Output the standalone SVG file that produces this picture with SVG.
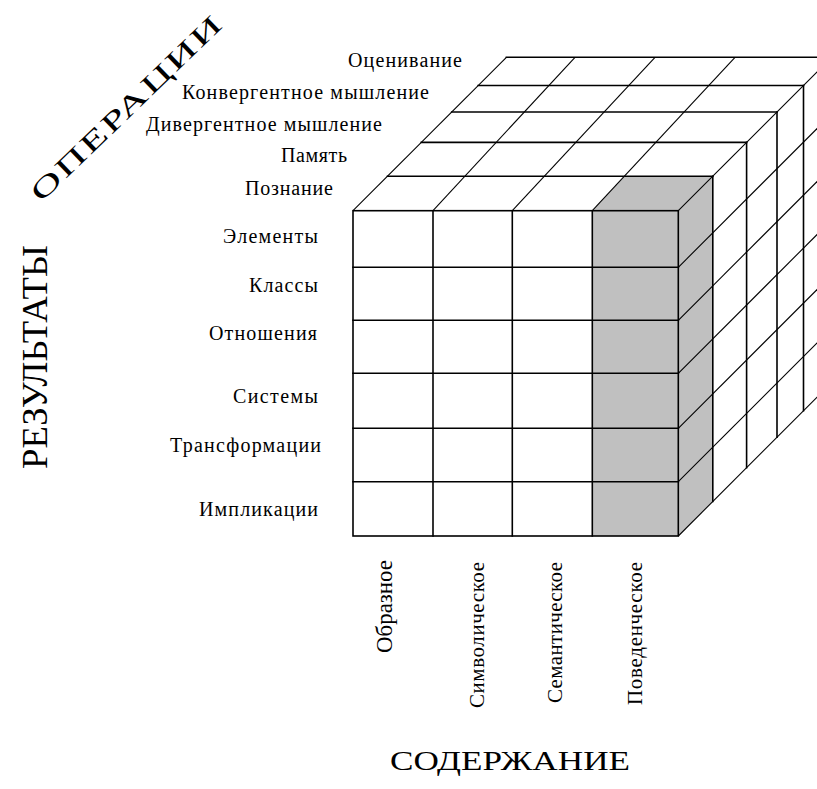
<svg xmlns="http://www.w3.org/2000/svg" width="817" height="789" viewBox="0 0 817 789">
<style>
.bg{fill:#ffffff}
.ln{stroke:#000;stroke-width:1.6;fill:none;stroke-linecap:square}
.dg{stroke:#000;stroke-width:1.1;fill:none}
.shade{fill:#c0c0c0}
.white{fill:#ffffff}
.lbl{font-family:"Liberation Serif","Times New Roman",serif;font-size:20px;fill:#000}
.big{font-family:"Liberation Serif","Times New Roman",serif;fill:#000}
.cnt{font-family:"Liberation Serif","Times New Roman",serif;fill:#000}
</style>
<rect class="bg" x="0" y="0" width="817" height="789"/>

<g id="cube">
  <rect class="white" x="353" y="210.7" width="239.3" height="325.3"/>
  <rect class="shade" x="592.3" y="210.7" width="86" height="325.3"/>
  <polygon class="shade" points="592.3,210.7 678.3,210.7 712.8,176.2 624.2,176.2"/>
  <polygon class="shade" points="678.3,210.7 712.8,176.2 712.8,501.5 678.3,536"/>

  <g id="top-face">
    <line class="ln" x1="387.5" y1="176.2" x2="712.8" y2="176.2"/>
    <line class="ln" x1="421.3" y1="142.4" x2="746.6" y2="142.4"/>
    <line class="ln" x1="451.7" y1="112" x2="777" y2="112"/>
    <line class="ln" x1="478.2" y1="85.5" x2="803.5" y2="85.5"/>
    <line class="ln" x1="506.4" y1="57.3" x2="831.7" y2="57.3"/>
    <line class="dg" x1="353" y1="210.7" x2="506.4" y2="57.3"/>
    <line class="dg" x1="433" y1="210.7" x2="575" y2="57.3"/>
    <line class="dg" x1="512.3" y1="210.7" x2="655" y2="57.3"/>
    <line class="dg" x1="592.3" y1="210.7" x2="735" y2="57.3"/>
    <line class="dg" x1="678.3" y1="210.7" x2="831.7" y2="57.3"/>
  </g>

  <g id="right-face">
    <line class="ln" x1="712.8" y1="176.2" x2="712.8" y2="501.5"/>
    <line class="ln" x1="746.6" y1="142.4" x2="746.6" y2="467.7"/>
    <line class="ln" x1="777" y1="112" x2="777" y2="437.3"/>
    <line class="ln" x1="803.5" y1="85.5" x2="803.5" y2="410.8"/>
    <line class="dg" x1="678.3" y1="267.3" x2="831.7" y2="113.9"/>
    <line class="dg" x1="678.3" y1="320.3" x2="831.7" y2="166.9"/>
    <line class="dg" x1="678.3" y1="373.3" x2="831.7" y2="219.9"/>
    <line class="dg" x1="678.3" y1="428.3" x2="831.7" y2="274.9"/>
    <line class="dg" x1="678.3" y1="481.7" x2="831.7" y2="328.3"/>
    <line class="dg" x1="678.3" y1="536" x2="831.7" y2="382.6"/>
  </g>

  <g id="front-face">
    <rect class="ln" x="353" y="210.7" width="325.3" height="325.3"/>
    <line class="ln" x1="433" y1="210.7" x2="433" y2="536"/>
    <line class="ln" x1="512.3" y1="210.7" x2="512.3" y2="536"/>
    <line class="ln" x1="592.3" y1="210.7" x2="592.3" y2="536"/>
    <line class="ln" x1="353" y1="267.3" x2="678.3" y2="267.3"/>
    <line class="ln" x1="353" y1="320.3" x2="678.3" y2="320.3"/>
    <line class="ln" x1="353" y1="373.3" x2="678.3" y2="373.3"/>
    <line class="ln" x1="353" y1="428.3" x2="678.3" y2="428.3"/>
    <line class="ln" x1="353" y1="481.7" x2="678.3" y2="481.7"/>
  </g>
</g>

<g id="operations">
  <text class="lbl" x="348" y="67" textLength="114" lengthAdjust="spacing">Оценивание</text>
  <text class="lbl" x="182" y="99" textLength="247" lengthAdjust="spacing">Конвергентное мышление</text>
  <text class="lbl" x="146" y="131" textLength="236" lengthAdjust="spacing">Дивергентное мышление</text>
  <text class="lbl" x="281" y="162" textLength="66" lengthAdjust="spacing">Память</text>
  <text class="lbl" x="245" y="195" textLength="88" lengthAdjust="spacing">Познание</text>
</g>

<g id="results">
  <text class="lbl" x="223" y="243" textLength="95" lengthAdjust="spacing">Элементы</text>
  <text class="lbl" x="249" y="292" textLength="69" lengthAdjust="spacing">Классы</text>
  <text class="lbl" x="209" y="340" textLength="108" lengthAdjust="spacing">Отношения</text>
  <text class="lbl" x="233" y="403" textLength="85" lengthAdjust="spacing">Системы</text>
  <text class="lbl" x="170" y="452" textLength="151" lengthAdjust="spacing">Трансформации</text>
  <text class="lbl" x="199" y="516" textLength="119" lengthAdjust="spacing">Импликации</text>
</g>

<g id="contents">
  <text class="cnt" font-size="24" transform="translate(392,653) rotate(-90)" textLength="93" lengthAdjust="spacingAndGlyphs">Образное</text>
  <text class="cnt" font-size="21" transform="translate(484,708) rotate(-90)" textLength="146" lengthAdjust="spacing">Символическое</text>
  <text class="cnt" font-size="21" transform="translate(562,703) rotate(-90)" textLength="141" lengthAdjust="spacing">Семантическое</text>
  <text class="cnt" font-size="21" transform="translate(642,705) rotate(-90)" textLength="143" lengthAdjust="spacing">Поведенческое</text>
</g>

<g id="axis-titles">
  <text class="big" font-size="36" transform="translate(47,469) rotate(-90)" textLength="224" lengthAdjust="spacingAndGlyphs">РЕЗУЛЬТАТЫ</text>
  <text class="big" font-size="27" x="390" y="770" textLength="240" lengthAdjust="spacingAndGlyphs">СОДЕРЖАНИЕ</text>
  <text class="big" font-size="34" transform="translate(41,203) rotate(-44) scale(1.3,0.8)" textLength="195" lengthAdjust="spacing">ОПЕРАЦИИ</text>
</g>
</svg>
